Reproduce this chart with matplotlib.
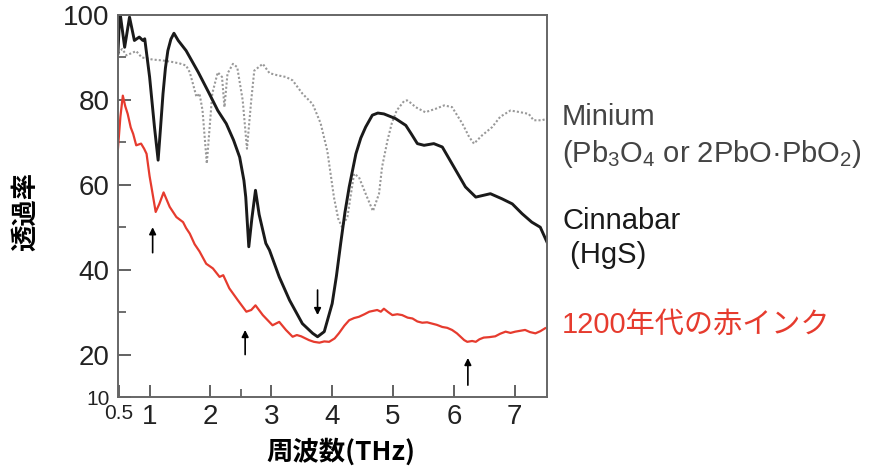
import matplotlib
matplotlib.use('Agg')
import matplotlib.pyplot as plt

plt.rcParams['font.family'] = ['Liberation Sans', 'Noto Sans CJK JP']

# Minium (Pb3O4) - 灰色点線
minium_x = [0.48, 0.55, 0.62, 0.70, 0.78, 0.87, 0.95, 1.05, 1.21, 1.35, 1.49, 1.60, 1.66, 1.71,
            1.77, 1.82, 1.87, 1.94, 2.03, 2.12, 2.19, 2.23, 2.28, 2.37, 2.44, 2.53, 2.60, 2.67,
            2.72, 2.86, 2.97, 3.10, 3.24, 3.35, 3.51, 3.68, 3.81, 3.92, 4.03, 4.10, 4.16, 4.25,
            4.36, 4.44, 4.55, 4.67, 4.77, 4.82, 4.91, 4.98, 5.06, 5.18, 5.23, 5.30, 5.37, 5.53,
            5.70, 5.84, 5.97, 6.14, 6.25, 6.33, 6.46, 6.63, 6.76, 6.93, 7.09, 7.23, 7.31, 7.45, 7.53]
minium_y = [91, 92, 90.5, 91, 91.5, 90, 89.8, 89.5, 89.3, 89, 88.6, 88.1, 86.5, 83.9,
            80.7, 81.5, 77.5, 65, 81.5, 86.5, 85.4, 78.3, 86.2, 88.5, 87.7, 79.9, 68.5, 79.9,
            86.9, 88.5, 86.3, 85.8, 85.4, 84.6, 81.5, 79, 74.5, 68, 57, 52, 50.1, 52.4,
            62.6, 61.8, 57.9, 53.8, 57.9, 64.2, 70.5, 74.5, 77.5, 79.7, 79.9, 79.2, 78.3, 77.1,
            77.9, 78.7, 78.3, 74.4, 71.3, 69.7, 71.6, 73.6, 76, 77.5, 77.1, 76.7, 75.2, 75.2, 75.6]

# Cinnabar (HgS) - 黒実線
cinnabar_x = [0.48, 0.51, 0.59, 0.67, 0.75, 0.83, 0.89, 0.92, 1.00, 1.08, 1.14, 1.18, 1.22, 1.26,
              1.30, 1.35, 1.40, 1.47, 1.60, 1.80, 1.98, 2.12, 2.26, 2.38, 2.48, 2.55, 2.58, 2.63,
              2.68, 2.74, 2.80, 2.91, 2.97, 3.13, 3.30, 3.51, 3.68, 3.76, 3.87, 4.00, 4.07, 4.14,
              4.21, 4.28, 4.39, 4.47, 4.55, 4.66, 4.75, 4.85, 5.04, 5.21, 5.30, 5.40, 5.51, 5.67,
              5.81, 6.00, 6.19, 6.36, 6.60, 6.79, 6.96, 7.12, 7.28, 7.42, 7.53]
cinnabar_y = [91, 101, 92.4, 99.5, 94, 94.8, 94, 94.4, 85.4, 73.6, 65.8, 73.5, 81.4, 87.5,
              91.6, 94.3, 95.7, 94, 91.6, 86.5, 81.5, 77.5, 74.4, 70.5, 66.5, 61, 57.1, 45.4,
              52, 58.7, 53, 46.2, 44.6, 38.3, 32.8, 27.3, 25, 24.2, 25.4, 32, 38.5, 46.2,
              53.5, 59.5, 67.3, 71, 73.6, 76.4, 76.9, 76.7, 75.6, 74, 72, 69.7, 69.3, 69.7,
              68.9, 64.2, 59.5, 57.1, 57.9, 56.7, 55.5, 53.2, 51.2, 50, 46.5]

# 1200年代の赤インク - 赤実線
ink_x = [0.48, 0.52, 0.56, 0.60, 0.64, 0.69, 0.73, 0.78, 0.86, 0.91, 0.95, 1.00, 1.03, 1.10,
         1.16, 1.23, 1.28, 1.33, 1.44, 1.55, 1.60, 1.66, 1.74, 1.82, 1.93, 2.04, 2.15, 2.21,
         2.31, 2.45, 2.59, 2.67, 2.74, 2.86, 3.02, 3.13, 3.24, 3.35, 3.42, 3.49, 3.62, 3.70,
         3.79, 3.87, 3.95, 4.04, 4.11, 4.20, 4.28, 4.36, 4.44, 4.53, 4.61, 4.74, 4.80, 4.85,
         4.92, 4.99, 5.07, 5.15, 5.24, 5.32, 5.40, 5.48, 5.56, 5.64, 5.72, 5.81, 5.89, 5.97,
         6.05, 6.11, 6.17, 6.22, 6.30, 6.36, 6.42, 6.49, 6.58, 6.68, 6.76, 6.85, 6.93, 7.01,
         7.09, 7.17, 7.25, 7.34, 7.42, 7.50]
ink_y = [68.5, 76, 81, 78.5, 76.7, 73.5, 72, 69.3, 69.7, 68.5, 67.3, 62, 59.5, 53.6,
         55.5, 58.2, 56.5, 54.8, 52.4, 51.2, 49.8, 48.5, 46, 44.3, 41.4, 40.3, 38.3, 38.7,
         35.6, 32.8, 30.1, 30.5, 31.6, 29.3, 26.9, 27.7, 25.8, 24.2, 24.6, 24.3, 23.4, 23.0,
         22.8, 23.1, 23.0, 23.8, 25.0, 26.8, 28.1, 28.6, 28.9, 29.5, 30.1, 30.5, 30.1, 30.8,
         30.0, 29.3, 29.5, 29.3, 28.7, 28.5, 27.8, 27.5, 27.6, 27.3, 27.0, 26.5, 26.3, 25.8,
         25.0, 24.2, 23.4, 23.0, 23.2, 23.0, 23.6, 24.0, 24.1, 24.3, 24.9, 25.4, 25.1, 25.4,
         25.6, 25.8, 25.3, 25.0, 25.5, 26.2]

# 吸収ピークの矢印
arrow_x = [1.05, 2.57, 3.76, 6.23]
arrow_tail = [44.0, 20.0, 35.2, 12.8]
arrow_tip = [50.0, 25.8, 29.3, 19.2]

x_ticks = [0.5, 1, 2, 3, 4, 5, 6, 7]
x_ticklabels = ['0.5', '1', '2', '3', '4', '5', '6', '7']
y_ticks = [10, 20, 40, 60, 80, 100]
y_ticklabels = ['10', '20', '40', '60', '80', '100']

fig = plt.figure(figsize=(8.77, 4.69), dpi=100)
ax = fig.add_axes([0.1345, 0.1535, 0.4892, 0.8145])

ax.plot(minium_x, minium_y, color='#999999', lw=1.5, linestyle=(0, (1, 1)))
ax.plot(cinnabar_x, cinnabar_y, color='#1a1a1a', lw=2.1)
ax.plot(ink_x, ink_y, color='#e63b2e', lw=1.6)

for xa, yt, yh in zip(arrow_x, arrow_tail, arrow_tip):
    ax.annotate('', xy=(xa, yh), xytext=(xa, yt),
                arrowprops=dict(arrowstyle='-|>', color='black', lw=1.2, mutation_scale=10,
                                shrinkA=0, shrinkB=0))

ax.set_xlim(0.48, 7.53)
ax.set_ylim(10, 100)
ax.set_xticks(x_ticks)
ax.set_xticklabels(x_ticklabels)
ax.set_yticks(y_ticks)
ax.set_yticklabels(y_ticklabels)
ax.set_xticks([2.5], minor=True)
ax.set_yticks([30, 50, 70, 90], minor=True)

ax.tick_params(which='major', direction='in', length=9, width=1.3, color='#555555',
               labelsize=20, labelcolor='#222222')
ax.tick_params(which='minor', direction='in', length=6, width=1.2, color='#555555')
ax.tick_params(axis='x', pad=5)
ax.tick_params(axis='y', pad=6)
ax.get_xticklabels()[0].set_fontsize(15)
ax.get_yticklabels()[0].set_fontsize(15)

for sp in ax.spines.values():
    sp.set_color('#666666')
    sp.set_linewidth(1.4)

# 右側のラベル
lab_kw = dict(transform=ax.transAxes, fontsize=21, va='baseline', ha='left', clip_on=False)
ax.text(1.035, 0.712, 'Minium', color='#444444', **lab_kw)
ax.text(1.035, 0.615, r'(Pb$\mathregular{_3}$O$\mathregular{_4}$ or 2PbO·PbO$\mathregular{_2}$)',
        color='#444444', **lab_kw)
ax.text(1.035, 0.440, 'Cinnabar', color='#1a1a1a', **lab_kw)
ax.text(1.035, 0.351, ' (HgS)', color='#1a1a1a', **lab_kw)
ax.text(1.035, 0.168, '1200年代の赤インク', color='#e63b2e', **lab_kw)

fig.text(26 / 877, 1 - 211 / 469, '透過率', rotation=90, ha='center', va='center',
         fontsize=19, fontweight='bold', family=['Noto Sans CJK JP'])
fig.text(341 / 877, 1 - 452 / 469, '周波数(THz)', ha='center', va='center',
         fontsize=19, fontweight='bold', family=['Noto Sans CJK JP'])

fig.savefig('out.png', dpi=100)
